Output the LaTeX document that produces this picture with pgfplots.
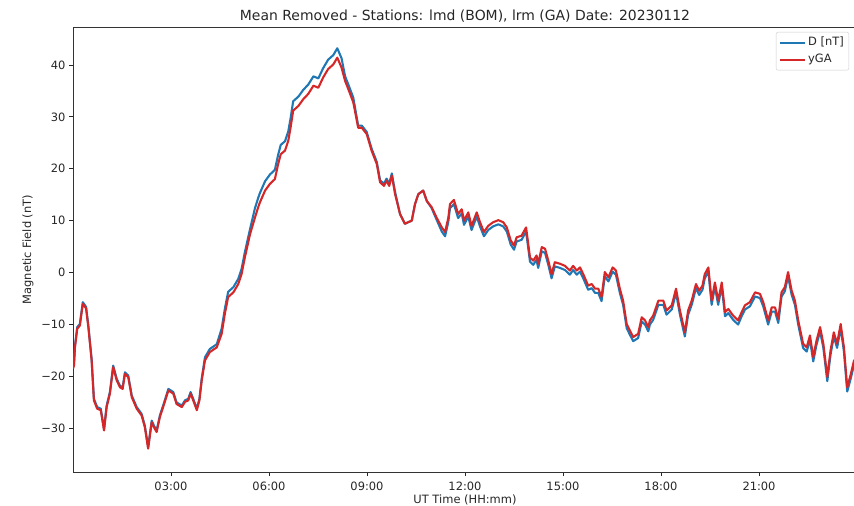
\documentclass[border=0pt]{standalone}
\usepackage{fontspec}
\setmainfont{DejaVu Sans}
\usepackage{pgfplots}
\pgfplotsset{compat=1.18}
\definecolor{mplblue}{HTML}{1F77B4}
\definecolor{mplred}{HTML}{D62728}
\begin{document}
\begin{tikzpicture}
\begin{axis}[
  scale only axis,
  width=784bp, height=445bp,
  xmin=0, xmax=24, ymin=-38.4, ymax=47.3,
  xtick={3,6,9,12,15,18,21},
  xticklabels={03:00,06:00,09:00,12:00,15:00,18:00,21:00},
  ytick={-30,-20,-10,0,10,20,30,40},
  yticklabels={−30,−20,−10,0,10,20,30,40},
  tick align=outside,
  major tick length=4bp,
  tick style={black!85, line width=0.8bp},
  xtick pos=bottom, ytick pos=left,
  axis line style={black!80, line width=0.8bp},
  ticklabel style={font=\fontsize{11.5}{13}\selectfont, text=black!85},
  xticklabel style={yshift=-2.5bp},
  /pgf/number format/assume math mode=true,
  title={Mean Removed - Stations: lmd (BOM), lrm (GA) Date: 20230112},
  title style={at={(axis description cs:0.5,1.0112)}, anchor=center, font=\fontsize{14}{16}\selectfont, text=black!85},
  xlabel={UT Time (HH:mm)},
  xlabel style={at={(axis description cs:0.5,-0.0629)}, anchor=center, font=\fontsize{11.5}{13}\selectfont, text=black!85},
  ylabel={Magnetic Field (nT)},
  ylabel style={at={(axis description cs:-0.0574,0.5)}, anchor=center, font=\fontsize{11.5}{13}\selectfont, text=black!85},
  legend cell align=left,
  legend image code/.code={\draw[#1] (0bp,0bp) -- (25bp,0bp);},
  legend style={at={(axis description cs:1,1)}, anchor=north east, xshift=-8bp, yshift=-5bp,
    draw=black!20, rounded corners=2bp, fill=white, fill opacity=0.8, text opacity=1,
    font=\fontsize{11.5}{13}\selectfont, text=black!85, inner sep=3bp, row sep=2bp,
    nodes={inner sep=2bp, text height=8.5bp, text depth=2.5bp}},
]
\addplot[mplblue, line width=2.1pt, line join=round] coordinates {
(0.00,-18.2) (0.03,-17.6) (0.06,-14.1) (0.13,-10.5) (0.21,-9.9) (0.30,-5.7) (0.40,-6.6) (0.47,-10.2)
(0.57,-16.6) (0.64,-24.3) (0.74,-25.9) (0.85,-26.2) (0.95,-30.1) (1.03,-25.6) (1.13,-23.0) (1.23,-17.9)
(1.34,-20.5) (1.44,-21.8) (1.52,-22.1) (1.59,-19.2) (1.69,-19.8) (1.80,-23.7) (1.95,-25.9) (2.10,-27.2)
(2.20,-29.5) (2.30,-33.6) (2.41,-28.5) (2.48,-29.5) (2.56,-30.4) (2.66,-27.5) (2.79,-25.0) (2.92,-22.4)
(3.07,-23.0) (3.17,-25.0) (3.33,-25.6) (3.43,-24.6) (3.53,-24.3) (3.60,-23.0) (3.68,-24.3) (3.79,-26.2)
(3.87,-24.3) (3.94,-20.4) (4.04,-16.3) (4.19,-14.7) (4.40,-13.8) (4.55,-10.8) (4.65,-6.9) (4.75,-3.7)
(4.91,-2.8) (5.06,-1.2) (5.16,0.7) (5.26,3.9) (5.42,8.4) (5.57,12.4) (5.67,14.4) (5.72,15.3)
(5.88,17.6) (6.03,18.9) (6.18,19.8) (6.28,22.7) (6.36,24.6) (6.49,25.3) (6.59,27.2) (6.66,29.7)
(6.74,33.0) (6.90,33.9) (7.05,35.2) (7.20,36.2) (7.36,37.8) (7.51,37.4) (7.66,39.4) (7.81,41.0)
(7.97,41.9) (8.09,43.2) (8.22,41.3) (8.33,37.8) (8.43,36.2) (8.58,33.7) (8.73,28.3) (8.84,28.3)
(8.99,27.1) (9.14,23.9) (9.30,21.3) (9.40,17.8) (9.52,17.1) (9.60,18.1) (9.68,17.1) (9.76,19.1)
(9.86,15.5) (10.01,11.3) (10.16,9.4) (10.26,9.7) (10.37,10.0) (10.47,13.2) (10.57,15.1) (10.72,15.8)
(10.83,13.8) (10.98,12.4) (11.13,10.2) (11.29,7.9) (11.39,7.0) (11.49,9.8) (11.54,12.4) (11.66,13.2)
(11.79,10.5) (11.90,11.4) (11.97,9.2) (12.10,10.8) (12.20,8.2) (12.36,10.8) (12.46,8.9) (12.58,7.0)
(12.71,8.2) (12.86,8.9) (13.02,9.3) (13.17,8.9) (13.28,7.9) (13.40,5.4) (13.50,4.4) (13.58,6.0)
(13.73,6.3) (13.87,7.9) (13.99,2.1) (14.09,1.5) (14.19,2.5) (14.24,0.9) (14.35,4.1) (14.45,3.8)
(14.55,1.5) (14.65,-1.1) (14.75,1.2) (14.91,0.9) (15.06,0.5) (15.21,-0.4) (15.31,0.5) (15.42,-0.4)
(15.52,0.2) (15.62,-1.1) (15.77,-3.3) (15.88,-3.0) (15.98,-3.9) (16.08,-3.9) (16.18,-5.5) (16.28,-0.7)
(16.39,-1.7) (16.52,0.2) (16.62,-0.4) (16.74,-3.9) (16.84,-6.2) (16.95,-10.7) (17.05,-12.0) (17.15,-13.2)
(17.30,-12.6) (17.41,-9.4) (17.51,-10.0) (17.61,-11.3) (17.66,-10.0) (17.76,-9.1) (17.92,-6.2) (18.07,-6.2)
(18.17,-8.1) (18.33,-7.1) (18.46,-3.9) (18.58,-8.1) (18.73,-12.3) (18.83,-8.1) (18.94,-6.2) (19.07,-3.0)
(19.17,-4.3) (19.27,-3.3) (19.34,-1.1) (19.45,0.2) (19.55,-6.2) (19.65,-2.7) (19.75,-6.2) (19.86,-2.7)
(19.96,-8.4) (20.06,-7.8) (20.21,-9.1) (20.36,-10.0) (20.47,-8.4) (20.57,-7.1) (20.72,-6.5) (20.88,-4.6)
(21.03,-4.9) (21.13,-6.5) (21.28,-10.0) (21.39,-7.5) (21.49,-7.5) (21.59,-9.7) (21.69,-4.6) (21.79,-3.6)
(21.89,-0.7) (22.00,-4.3) (22.10,-6.2) (22.20,-10.0) (22.35,-14.5) (22.46,-15.2) (22.56,-12.9) (22.66,-17.1)
(22.76,-13.9) (22.87,-11.3) (22.97,-14.5) (23.09,-20.9) (23.19,-15.8) (23.29,-12.3) (23.39,-14.5) (23.50,-10.7)
(23.60,-15.2) (23.70,-22.9) (23.80,-20.6) (23.91,-17.7) (23.98,-18.3)
};
\addlegendentry{D [nT]}
\addplot[mplred, line width=2.1pt, line join=round] coordinates {
(0.00,-18.5) (0.03,-17.9) (0.06,-14.4) (0.13,-10.8) (0.21,-10.2) (0.30,-6.0) (0.40,-6.9) (0.47,-10.5)
(0.57,-16.9) (0.64,-24.6) (0.74,-26.2) (0.85,-26.5) (0.95,-30.4) (1.03,-25.9) (1.13,-23.3) (1.23,-18.2)
(1.34,-20.8) (1.44,-22.1) (1.52,-22.4) (1.59,-19.5) (1.69,-20.1) (1.80,-24.0) (1.95,-26.2) (2.10,-27.5)
(2.20,-29.8) (2.30,-33.9) (2.41,-28.8) (2.48,-29.8) (2.56,-30.7) (2.66,-27.8) (2.79,-25.3) (2.92,-22.7)
(3.07,-23.3) (3.17,-25.3) (3.33,-25.9) (3.43,-24.9) (3.53,-24.6) (3.60,-23.3) (3.68,-24.6) (3.79,-26.5)
(3.87,-24.6) (3.94,-20.8) (4.04,-16.9) (4.19,-15.3) (4.40,-14.4) (4.55,-11.8) (4.65,-7.9) (4.75,-4.7)
(4.91,-3.8) (5.06,-2.2) (5.16,-0.3) (5.26,2.9) (5.42,7.4) (5.57,10.6) (5.67,12.6) (5.72,13.5)
(5.88,15.8) (6.03,17.1) (6.18,18.0) (6.28,20.9) (6.36,22.8) (6.49,23.5) (6.59,25.4) (6.66,27.9)
(6.74,31.2) (6.90,32.1) (7.05,33.4) (7.20,34.4) (7.36,36.0) (7.51,35.6) (7.66,37.6) (7.81,39.2)
(7.97,40.1) (8.09,41.4) (8.22,39.5) (8.33,36.9) (8.43,35.3) (8.58,32.8) (8.73,27.9) (8.84,27.9)
(8.99,26.7) (9.14,23.5) (9.30,20.9) (9.40,17.4) (9.52,16.7) (9.60,17.7) (9.68,16.7) (9.76,18.7)
(9.86,15.1) (10.01,11.3) (10.16,9.4) (10.26,9.7) (10.37,10.0) (10.47,13.2) (10.57,15.1) (10.72,15.8)
(10.83,13.8) (10.98,12.6) (11.13,10.6) (11.29,8.7) (11.39,7.8) (11.49,10.6) (11.54,13.2) (11.66,14.0)
(11.79,11.3) (11.90,12.2) (11.97,10.0) (12.10,11.6) (12.20,9.0) (12.36,11.6) (12.46,9.7) (12.58,7.8)
(12.71,9.0) (12.86,9.7) (13.02,10.1) (13.17,9.7) (13.28,8.7) (13.40,6.2) (13.50,5.2) (13.58,6.8)
(13.73,7.1) (13.87,8.7) (13.99,2.9) (14.09,2.3) (14.19,3.3) (14.24,1.7) (14.35,4.9) (14.45,4.6)
(14.55,2.3) (14.65,-0.3) (14.75,2.0) (14.91,1.7) (15.06,1.3) (15.21,0.4) (15.31,1.3) (15.42,0.4)
(15.52,1.0) (15.62,-0.3) (15.77,-2.5) (15.88,-2.2) (15.98,-3.1) (16.08,-3.1) (16.18,-4.7) (16.28,0.1)
(16.39,-0.9) (16.52,1.0) (16.62,0.4) (16.74,-3.1) (16.84,-5.4) (16.95,-9.9) (17.05,-11.2) (17.15,-12.4)
(17.30,-11.8) (17.41,-8.6) (17.51,-9.2) (17.61,-10.5) (17.66,-9.2) (17.76,-8.3) (17.92,-5.4) (18.07,-5.4)
(18.17,-7.3) (18.33,-6.3) (18.46,-3.1) (18.58,-7.3) (18.73,-11.5) (18.83,-7.3) (18.94,-5.4) (19.07,-2.2)
(19.17,-3.5) (19.27,-2.5) (19.34,-0.3) (19.45,1.0) (19.55,-5.4) (19.65,-1.9) (19.75,-5.4) (19.86,-1.9)
(19.96,-7.6) (20.06,-7.0) (20.21,-8.3) (20.36,-9.2) (20.47,-7.6) (20.57,-6.3) (20.72,-5.7) (20.88,-3.8)
(21.03,-4.1) (21.13,-5.7) (21.28,-9.2) (21.39,-6.7) (21.49,-6.7) (21.59,-8.9) (21.69,-3.8) (21.79,-2.8)
(21.89,0.1) (22.00,-3.5) (22.10,-5.4) (22.20,-9.2) (22.35,-13.7) (22.46,-14.4) (22.56,-12.1) (22.66,-16.3)
(22.76,-13.1) (22.87,-10.5) (22.97,-13.7) (23.09,-20.1) (23.19,-15.0) (23.29,-11.5) (23.39,-13.7) (23.50,-9.9)
(23.60,-14.4) (23.70,-22.1) (23.80,-19.8) (23.91,-16.9) (23.98,-17.5)
};
\addlegendentry{yGA}
\end{axis}
\pgfresetboundingbox
\path[use as bounding box] ([shift={(-73bp,-34bp)}]current axis.south west) rectangle ([shift={(781bp,472bp)}]current axis.south west);
\end{tikzpicture}
\end{document}
